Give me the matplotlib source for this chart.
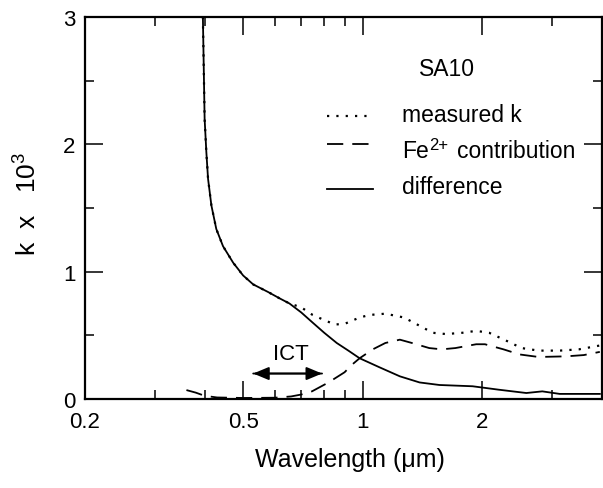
import matplotlib
matplotlib.use("Agg")
import matplotlib.pyplot as plt
from matplotlib.lines import Line2D
from matplotlib.ticker import FixedLocator, FixedFormatter, NullFormatter

plt.rcParams['font.family'] = ['Liberation Sans', 'DejaVu Sans']
plt.rcParams['mathtext.fontset'] = 'custom'
plt.rcParams['mathtext.rm'] = 'Liberation Sans'
plt.rcParams['mathtext.it'] = 'Liberation Sans'

# ---- data ----
diff_x = [0.396, 0.398, 0.400, 0.404, 0.408, 0.416, 0.428, 0.445, 0.472, 0.50, 0.53, 0.578,
          0.618, 0.654, 0.70, 0.748, 0.80, 0.86, 0.92, 0.982, 1.10, 1.24, 1.39, 1.56, 1.89,
          2.2, 2.58, 2.83, 3.13, 3.95]
diff_y = [3.0, 2.6, 2.2, 1.94, 1.73, 1.52, 1.335, 1.20, 1.07, 0.97, 0.90, 0.84,
          0.79, 0.75, 0.68, 0.60, 0.52, 0.44, 0.38, 0.32, 0.25, 0.178, 0.13, 0.11, 0.10,
          0.073, 0.047, 0.06, 0.04, 0.04]

meas_x = [0.396, 0.398, 0.400, 0.404, 0.408, 0.416, 0.428, 0.445, 0.472, 0.50, 0.53, 0.578,
          0.618, 0.654, 0.70, 0.748, 0.80, 0.85, 0.90, 0.982, 1.04, 1.14, 1.27, 1.39, 1.50,
          1.62, 1.78, 1.93, 2.08, 2.29, 2.51, 2.77, 3.13, 3.5, 3.95]
meas_y = [3.0, 2.6, 2.2, 1.94, 1.73, 1.52, 1.335, 1.20, 1.07, 0.97, 0.90, 0.84,
          0.79, 0.75, 0.72, 0.66, 0.62, 0.585, 0.59, 0.64, 0.66, 0.67, 0.64, 0.575, 0.52,
          0.51, 0.52, 0.535, 0.52, 0.46, 0.40, 0.38, 0.38, 0.39, 0.42]

fe_x = [0.36, 0.38, 0.40, 0.43, 0.50, 0.60, 0.66, 0.70, 0.745, 0.82, 0.90, 0.94, 0.982,
        1.06, 1.14, 1.24, 1.34, 1.47, 1.58, 1.71, 1.93, 2.03, 2.26, 2.48, 2.77, 3.25, 3.6, 3.95]
fe_y = [0.07, 0.05, 0.025, 0.012, 0.008, 0.01, 0.02, 0.035, 0.06, 0.13, 0.21, 0.27, 0.32,
        0.39, 0.44, 0.466, 0.437, 0.40, 0.39, 0.40, 0.43, 0.43, 0.39, 0.35, 0.33, 0.335, 0.345, 0.37]

xmajor = [0.2, 0.5, 1, 2]
xmajor_labels = ['0.2', '0.5', '1', '2']
xminor = [0.3, 0.4, 0.6, 0.7, 0.8, 0.9, 3, 4]
ymajor = [0, 1, 2, 3]
yminor = [0.5, 1.5, 2.5]

W, H = 603, 489
fig = plt.figure(figsize=(W / 100, H / 100), dpi=100)
ax = fig.add_axes([85 / W, (H - 400) / H, (602 - 85) / W, (400 - 18) / H])

dot_ls = (0, (1, 3.2))
dash_ls = (0, (9, 5))
ax.plot(meas_x, meas_y, color='black', lw=1.6, linestyle=dot_ls)
ax.plot(fe_x, fe_y, color='black', lw=1.3, linestyle=dash_ls)
ax.plot(diff_x, diff_y, color='black', lw=1.3, linestyle='-')

ax.set_xscale('log')
ax.set_xlim(0.2, 4.0)
ax.set_ylim(0, 3)

ax.xaxis.set_major_locator(FixedLocator(xmajor))
ax.xaxis.set_major_formatter(FixedFormatter(xmajor_labels))
ax.xaxis.set_minor_locator(FixedLocator(xminor))
ax.xaxis.set_minor_formatter(NullFormatter())
ax.yaxis.set_major_locator(FixedLocator(ymajor))
ax.yaxis.set_minor_locator(FixedLocator(yminor))

ax.tick_params(which='both', direction='in', top=True, right=True, width=1.1, labelsize=16)
ax.tick_params(which='major', length=13)
ax.tick_params(which='minor', length=6.5)
ax.tick_params(axis='x', pad=9)
ax.tick_params(axis='y', pad=7)
for s in ax.spines.values():
    s.set_linewidth(1.6)

ax.set_xlabel('Wavelength (μm)', fontsize=18)
ax.set_ylabel('k  x   10$^{3}$', fontsize=19)
ax.xaxis.set_label_coords((350 - 85) / 517, (400 - 460) / 382)
ax.xaxis.label.set_va('center')
ax.yaxis.set_label_coords((28 - 85) / 517, (400 - 204) / 382)
ax.yaxis.label.set_va('center')

# ICT arrow
ax.annotate('', xy=(0.79, 0.2), xytext=(0.53, 0.2),
            arrowprops=dict(arrowstyle='-|>,head_length=0.6,head_width=0.25', color='black', lw=1.3,
                            mutation_scale=16, shrinkA=0, shrinkB=0))
ax.annotate('', xy=(0.53, 0.2), xytext=(0.79, 0.2),
            arrowprops=dict(arrowstyle='-|>,head_length=0.6,head_width=0.25', color='black', lw=1.3,
                            mutation_scale=16, shrinkA=0, shrinkB=0))
ax.text(0.66, 0.36, 'ICT', fontsize=16, ha='center', va='center')


# legend (manual)
def fx(px):
    return px / W


def fy(py):
    return 1 - py / H


fs = 16.5
fig.text(fx(447), fy(70), 'SA10', fontsize=fs, ha='center', va='center')
rows_line_y = [117, 145, 190]
styles = [(dot_ls, 1.6), (dash_ls, 1.3), ('-', 1.3)]
for ly, (ls, lw) in zip(rows_line_y, styles):
    fig.add_artist(Line2D([fx(327), fx(373)], [fy(ly), fy(ly)], color='black',
                          lw=lw, linestyle=ls, transform=fig.transFigure))

fig.text(fx(402), fy(116), 'measured k', fontsize=fs, ha='left', va='center')
fig.text(fx(402), fy(188), 'difference', fontsize=fs, ha='left', va='center')
# Fe2+ contribution, built from pieces
renderer = fig.canvas.get_renderer()
t_fe = fig.text(fx(402), fy(152), 'Fe', fontsize=fs, ha='left', va='center')
bb = t_fe.get_window_extent(renderer)
t_sup = fig.text(bb.x1 / W + 0.5 / W, fy(145), '2+', fontsize=12, ha='left', va='center')
fig.text(fx(457), fy(152), 'contribution', fontsize=fs, ha='left', va='center')

fig.savefig('out.png', dpi=100)
